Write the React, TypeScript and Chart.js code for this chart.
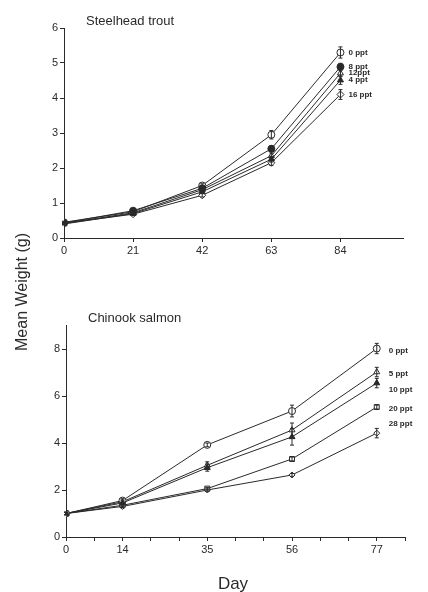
import React, { useEffect, useRef } from "react";
import { Chart, registerables } from "chart.js";

Chart.register(...registerables);

// ---- Steelhead trout ----
const troutDays = [0, 21, 42, 63, 84];
const troutTicks = [0, 21, 42, 63, 84];
const troutYTicks = [0, 1, 2, 3, 4, 5, 6];
const troutLabels = ["0 ppt", "8 ppt", "12ppt", "4 ppt", "16 ppt"];
const trout0 = [0.45, 0.75, 1.5, 2.95, 5.3];
const trout8 = [0.43, 0.78, 1.42, 2.55, 4.89];
const trout12 = [0.42, 0.72, 1.38, 2.35, 4.71];
const trout4 = [0.4, 0.7, 1.32, 2.25, 4.51];
const trout16 = [0.42, 0.68, 1.22, 2.15, 4.1];
const trout0Err = [0.03, 0.04, 0.05, 0.12, 0.16];
const trout8Err = [0.03, 0.04, 0.05, 0.08, 0.1];
const trout12Err = [0.03, 0.04, 0.05, 0.08, 0.1];
const trout4Err = [0.03, 0.04, 0.05, 0.08, 0.12];
const trout16Err = [0.03, 0.04, 0.05, 0.08, 0.14];

// ---- Chinook salmon ----
const salmonDays = [0, 14, 35, 56, 77];
const salmonTicks = [0, 7, 14, 21, 28, 35, 42, 49, 56, 63, 70, 77, 84];
const salmonTickLabels = [0, 14, 35, 56, 77];
const salmonYTicks = [0, 2, 4, 6, 8];
const salmonLabels = ["0 ppt", "5 ppt", "10 ppt", "20 ppt", "28 ppt"];
const salmon0 = [1.0, 1.55, 3.92, 5.36, 8.02];
const salmon5 = [1.0, 1.5, 3.05, 4.55, 7.02];
const salmon10 = [1.0, 1.45, 2.95, 4.26, 6.55];
const salmon20 = [1.0, 1.35, 2.06, 3.32, 5.53];
const salmon28 = [1.0, 1.3, 2.0, 2.64, 4.42];
const salmon0Err = [0.05, 0.08, 0.08, 0.25, 0.22];
const salmon5Err = [0.05, 0.08, 0.15, 0.3, 0.2];
const salmon10Err = [0.05, 0.08, 0.15, 0.35, 0.2];
const salmon20Err = [0.05, 0.05, 0.05, 0.08, 0.08];
const salmon28Err = [0.05, 0.05, 0.05, 0.06, 0.2];

const INK = "#2a2a2a";
const FONT = "'Liberation Sans', Arial, sans-serif";

type Style = { pointStyle: string; fill: boolean; radius: number; labelDy: number };

const troutStyles: Style[] = [
  { pointStyle: "circle", fill: false, radius: 3.5, labelDy: 0 },
  { pointStyle: "circle", fill: true, radius: 3.5, labelDy: 0 },
  { pointStyle: "triangle", fill: false, radius: 3.5, labelDy: 0 },
  { pointStyle: "triangle", fill: true, radius: 3.5, labelDy: 0 },
  { pointStyle: "rectRot", fill: false, radius: 3.5, labelDy: 0 },
];
const salmonStyles: Style[] = [
  { pointStyle: "circle", fill: false, radius: 3.5, labelDy: 2 },
  { pointStyle: "triangle", fill: false, radius: 3.5, labelDy: 2 },
  { pointStyle: "triangle", fill: true, radius: 3.5, labelDy: 7 },
  { pointStyle: "rect", fill: false, radius: 3.5, labelDy: 2 },
  { pointStyle: "rectRot", fill: false, radius: 3, labelDy: -9 },
];

const errorAndLabelPlugin = {
  id: "errLabels",
  afterDatasetsDraw(chart: any, _args: any, opts: any) {
    const ctx = chart.ctx;
    const xs = chart.scales.x;
    const ys = chart.scales.y;
    ctx.save();
    ctx.strokeStyle = INK;
    ctx.lineWidth = 1;
    chart.data.datasets.forEach((ds: any, i: number) => {
      const errs: number[] = opts.errors[i];
      ds.data.forEach((p: any, j: number) => {
        const e = errs[j];
        const px = xs.getPixelForValue(p.x);
        const top = ys.getPixelForValue(p.y + e);
        const bot = ys.getPixelForValue(p.y - e);
        ctx.beginPath();
        ctx.moveTo(px, top);
        ctx.lineTo(px, bot);
        ctx.moveTo(px - 2, top);
        ctx.lineTo(px + 2, top);
        ctx.moveTo(px - 2, bot);
        ctx.lineTo(px + 2, bot);
        ctx.stroke();
      });
      const last = ds.data[ds.data.length - 1];
      const lx = xs.getPixelForValue(last.x) + opts.labelDx;
      const ly = ys.getPixelForValue(last.y) + opts.styles[i].labelDy;
      ctx.fillStyle = INK;
      ctx.font = `bold ${opts.labelSize}px ${FONT}`;
      ctx.textAlign = "left";
      ctx.textBaseline = "middle";
      ctx.fillText(opts.labels[i], lx, ly);
    });
    ctx.restore();
  },
};

function makeDatasets(days: number[], series: number[][], labels: string[], styles: Style[]) {
  return series.map((vals, i) => ({
    label: labels[i],
    data: vals.map((v, j) => ({ x: days[j], y: v })),
    borderColor: INK,
    borderWidth: 1,
    pointStyle: styles[i].pointStyle,
    pointRadius: styles[i].radius,
    pointBorderWidth: 1,
    pointBorderColor: INK,
    pointBackgroundColor: styles[i].fill ? INK : "#ffffff",
    fill: false,
    tension: 0,
    order: styles[i].fill ? 0 : 1,
  }));
}

function axisCommon() {
  return {
    grid: { display: true, drawOnChartArea: false, drawTicks: true, tickLength: 4, color: INK },
    border: { display: true, color: INK, width: 1 },
    ticks: { color: INK, font: { family: FONT, size: 11 }, padding: 2, autoSkip: false, maxRotation: 0 },
  };
}

type PanelProps = {
  days: number[];
  series: number[][];
  errors: number[][];
  labels: string[];
  styles: Style[];
  xMax: number;
  xTicks: number[];
  xTickLabels: number[];
  yMax: number;
  yTicks: number[];
  padTop: number;
  padRight: number;
  yWidth: number;
  xHeight: number;
  labelDx: number;
};

function Panel(p: PanelProps) {
  const ref = useRef<HTMLCanvasElement | null>(null);
  useEffect(() => {
    if (!ref.current) return;
    const xc = axisCommon();
    const yc = axisCommon();
    const chart = new Chart(ref.current, {
      type: "line",
      data: { datasets: makeDatasets(p.days, p.series, p.labels, p.styles) as any },
      options: {
        animation: false,
        responsive: false,
        maintainAspectRatio: false,
        layout: { padding: { top: p.padTop, right: p.padRight, left: 0, bottom: 0 } },
        plugins: {
          legend: { display: false },
          tooltip: { enabled: false },
          errLabels: {
            errors: p.errors,
            labels: p.labels,
            styles: p.styles,
            labelDx: p.labelDx,
            labelSize: 8,
          },
        } as any,
        scales: {
          x: {
            type: "linear",
            min: 0,
            max: p.xMax,
            ...xc,
            ticks: {
              ...xc.ticks,
              callback: (v: any) => (p.xTickLabels.includes(Number(v)) ? String(v) : ""),
            },
            afterBuildTicks: (s: any) => {
              s.ticks = p.xTicks.map((v) => ({ value: v }));
            },
            afterFit: (s: any) => {
              s.height = p.xHeight;
            },
          } as any,
          y: {
            type: "linear",
            min: 0,
            max: p.yMax,
            ...yc,
            afterBuildTicks: (s: any) => {
              s.ticks = p.yTicks.map((v) => ({ value: v }));
            },
            afterFit: (s: any) => {
              s.width = p.yWidth;
            },
          } as any,
        },
      },
      plugins: [errorAndLabelPlugin],
    });
    return () => chart.destroy();
  }, []);
  return <canvas ref={ref} width={428} height={260} style={{ display: "block", width: 428, height: 260 }} />;
}

const textBase: React.CSSProperties = {
  position: "absolute",
  fontFamily: FONT,
  color: INK,
  whiteSpace: "nowrap",
  lineHeight: 1,
};

export default function App() {
  return (
    <div style={{ position: "fixed", left: 0, top: 0, width: 428, height: 592, background: "#fff" }}>
      <div style={{ position: "absolute", left: 0, top: 0 }}>
        <Panel
          days={troutDays}
          series={[trout0, trout8, trout12, trout4, trout16]}
          errors={[trout0Err, trout8Err, trout12Err, trout4Err, trout16Err]}
          labels={troutLabels}
          styles={troutStyles}
          xMax={103}
          xTicks={troutTicks}
          xTickLabels={troutTicks}
          yMax={6}
          yTicks={troutYTicks}
          padTop={28}
          padRight={25}
          yWidth={64}
          xHeight={22}
          labelDx={8}
        />
      </div>
      <div style={{ position: "absolute", left: 0, top: 300 }}>
        <Panel
          days={salmonDays}
          series={[salmon0, salmon5, salmon10, salmon20, salmon28]}
          errors={[salmon0Err, salmon5Err, salmon10Err, salmon20Err, salmon28Err]}
          labels={salmonLabels}
          styles={salmonStyles}
          xMax={84}
          xTicks={salmonTicks}
          xTickLabels={salmonTickLabels}
          yMax={9}
          yTicks={salmonYTicks}
          padTop={25.5}
          padRight={23}
          yWidth={66}
          xHeight={23}
          labelDx={12}
        />
      </div>
      <div style={{ ...textBase, left: 86, top: 14, fontSize: 13 }}>Steelhead trout</div>
      <div style={{ ...textBase, left: 88, top: 311, fontSize: 13 }}>Chinook salmon</div>
      <div
        style={{
          ...textBase,
          left: 22,
          top: 292,
          fontSize: 16,
          transform: "translate(-50%, -50%) rotate(-90deg)",
        }}
      >
        Mean Weight (g)
      </div>
      <div style={{ ...textBase, left: 233, top: 583, fontSize: 17, transform: "translate(-50%, -50%)" }}>Day</div>
    </div>
  );
}
